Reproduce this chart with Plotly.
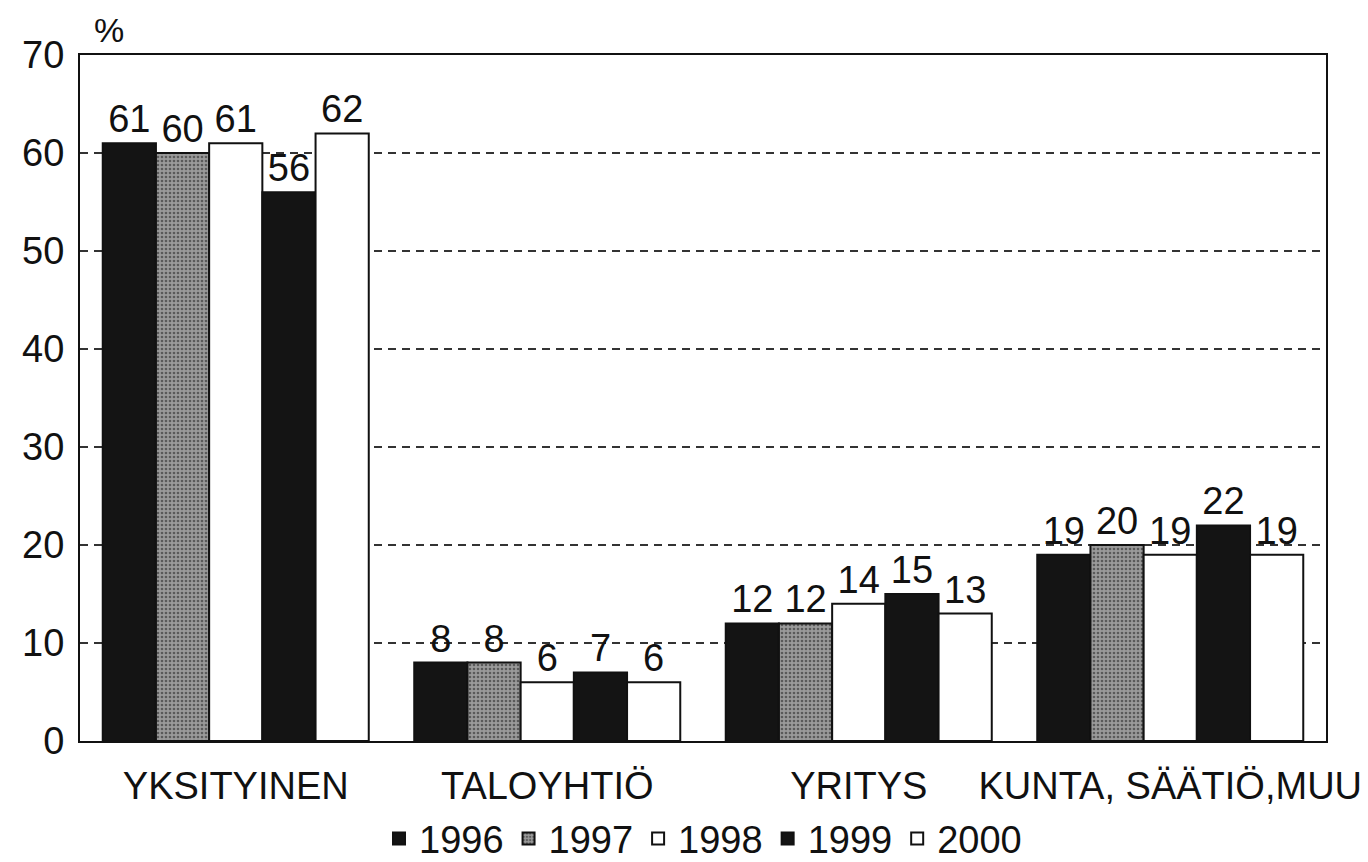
import plotly.graph_objects as go

categories = ["YKSITYINEN", "TALOYHTIÖ", "YRITYS", "KUNTA, SÄÄTIÖ,MUU"]
years = ["1996", "1997", "1998", "1999", "2000"]
v1996 = [61, 8, 12, 19]
v1997 = [60, 8, 12, 20]
v1998 = [61, 6, 14, 19]
v1999 = [56, 7, 15, 22]
v2000 = [62, 6, 13, 19]
series = [v1996, v1997, v1998, v1999, v2000]

y_ticks = [0, 10, 20, 30, 40, 50, 60, 70]

FONT = "Liberation Sans, Arial, Helvetica, sans-serif"
fills = ["#141414", "#8c8c8c", "#ffffff", "#141414", "#ffffff"]

fig = go.Figure()
for i, (yr, vals) in enumerate(zip(years, series)):
    marker = dict(color=fills[i], line=dict(color="#111111", width=2))
    if yr == "1997":
        marker["pattern"] = dict(shape=".", bgcolor="#9a9a9a", fgcolor="#5a5a5a",
                                 size=4, solidity=0.35, fillmode="replace")
    fig.add_trace(go.Bar(
        name=yr, x=categories, y=vals, marker=marker,
        text=[str(v) for v in vals], textposition="outside",
        textfont=dict(family=FONT, size=38, color="#111111"),
        cliponaxis=False,
    ))

fig.add_annotation(text="%", xref="paper", yref="paper", x=0.01, y=1.0,
                   xanchor="left", yanchor="bottom", yshift=4, showarrow=False,
                   font=dict(family=FONT, size=34, color="#111111"))

fig.update_layout(
    width=1368, height=862,
    margin=dict(l=80, r=42, t=55, b=121, autoexpand=False),
    paper_bgcolor="white", plot_bgcolor="white",
    barmode="group", bargap=0.146, bargroupgap=0,
    font=dict(family=FONT, size=38, color="#111111"),
    showlegend=True,
    legend=dict(orientation="h", x=0.5, xanchor="center",
                yref="container", y=0.027, yanchor="middle",
                font=dict(family=FONT, size=38, color="#111111"),
                itemwidth=30, tracegroupgap=0, bgcolor="rgba(0,0,0,0)"),
)
fig.update_xaxes(
    showline=True, linecolor="#111111", linewidth=2, mirror=True,
    ticks="", showgrid=False, automargin=False, ticklabelstandoff=10,
    tickfont=dict(family=FONT, size=38, color="#111111"),
)
fig.update_yaxes(
    range=[0, 70], tickvals=y_ticks, ticktext=[str(t) for t in y_ticks],
    showline=True, linecolor="#111111", linewidth=2, mirror=True,
    ticks="", ticklabelstandoff=6, automargin=False,
    showgrid=True, gridcolor="#333333", gridwidth=1.5, griddash="8px,6px",
    zeroline=False,
    tickfont=dict(family=FONT, size=38, color="#111111"),
)

fig.write_html("out.html")
